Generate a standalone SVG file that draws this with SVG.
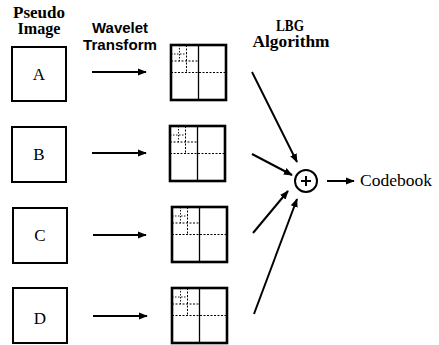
<svg xmlns="http://www.w3.org/2000/svg" xmlns:xlink="http://www.w3.org/1999/xlink" width="439" height="345" viewBox="0 0 439 345">
<style>
.box{fill:#fff;stroke:#000;stroke-width:2}
.gout{fill:#fff;stroke:#000;stroke-width:2.6}
.gmid{stroke:#000;stroke-width:1.3;fill:none}
.gdot{stroke:#000;stroke-width:1;stroke-dasharray:2 1.5;fill:none}
.gsub{stroke:#000;stroke-width:0.9;stroke-dasharray:1.5 1.5;fill:none}
.conn{stroke:#000;stroke-width:2;fill:none;marker-end:url(#ah)}
.hdr{font-family:"Liberation Serif",serif;font-weight:bold;font-size:16px;text-anchor:middle}
.hdrs{font-family:"Liberation Sans",sans-serif;font-weight:bold;font-size:14.5px;text-anchor:middle}
.lbl{font-family:"Liberation Serif",serif;font-size:17px;text-anchor:middle}
.cb{font-family:"Liberation Serif",serif;font-size:17px}
</style>
<defs>
<marker id="ah" viewBox="0 0 10 10" refX="9" refY="5" markerWidth="4.5" markerHeight="4.5" orient="auto" markerUnits="strokeWidth">
<path d="M0,1 L10,5 L0,9 z" fill="#000"/>
</marker>
<g id="grid">
<rect class="gout" x="0" y="0" width="55" height="55"/>
<line class="gmid" x1="27.5" y1="0" x2="27.5" y2="55"/>
<line class="gdot" x1="0" y1="27.5" x2="55" y2="27.5"/>
<line class="gdot" x1="0" y1="16" x2="27.5" y2="16"/>
<line class="gdot" x1="15.5" y1="0" x2="15.5" y2="27.5"/>
<line class="gsub" x1="0" y1="9" x2="15.5" y2="9"/>
<line class="gsub" x1="8.5" y1="0" x2="8.5" y2="16"/>
</g>
</defs>
<rect width="439" height="345" fill="#fff"/>
<g id="headers">
<text class="hdr" x="39" y="18" textLength="52" lengthAdjust="spacingAndGlyphs">Pseudo</text>
<text class="hdr" x="39" y="34" textLength="43" lengthAdjust="spacingAndGlyphs">Image</text>
<text class="hdrs" x="120" y="33" textLength="56" lengthAdjust="spacingAndGlyphs">Wavelet</text>
<text class="hdrs" x="120" y="50" textLength="74" lengthAdjust="spacingAndGlyphs">Transform</text>
<text class="hdr" x="290" y="31" textLength="28" lengthAdjust="spacingAndGlyphs">LBG</text>
<text class="hdr" x="291" y="47" textLength="77" lengthAdjust="spacingAndGlyphs">Algorithm</text>
</g>
<g id="image-a"><rect class="box" x="12" y="47" width="54" height="54"/><text class="lbl" x="39" y="80">A</text></g>
<g id="image-b"><rect class="box" x="12" y="127" width="54" height="55"/><text class="lbl" x="39" y="160">B</text></g>
<g id="image-c"><rect class="box" x="13" y="208" width="54" height="55"/><text class="lbl" x="40" y="241">C</text></g>
<g id="image-d"><rect class="box" x="13" y="288" width="54" height="55"/><text class="lbl" x="40" y="324">D</text></g>
<g id="wavelet-a" transform="translate(171,45)"><use xlink:href="#grid" href="#grid"/></g>
<g id="wavelet-b" transform="translate(170,126)"><use xlink:href="#grid" href="#grid"/></g>
<g id="wavelet-c" transform="translate(172,207)"><use xlink:href="#grid" href="#grid"/></g>
<g id="wavelet-d" transform="translate(172,288)"><use xlink:href="#grid" href="#grid"/></g>
<g id="sum">
<circle cx="306" cy="181" r="11" fill="#fff" stroke="#000" stroke-width="2"/>
<line x1="301" y1="181" x2="311" y2="181" stroke="#000" stroke-width="2"/>
<line x1="306" y1="176" x2="306" y2="186" stroke="#000" stroke-width="2"/>
</g>
<g id="codebook"><text class="cb" x="360" y="186" textLength="72" lengthAdjust="spacingAndGlyphs">Codebook</text></g>
<g id="connectors">
<line class="conn" x1="92" y1="72" x2="146" y2="72"/>
<line class="conn" x1="92" y1="153" x2="146" y2="153"/>
<line class="conn" x1="93" y1="235" x2="146" y2="235"/>
<line class="conn" x1="93" y1="316" x2="147" y2="316"/>
<line class="conn" x1="252" y1="72" x2="297" y2="162"/>
<line class="conn" x1="252" y1="154" x2="292" y2="175"/>
<line class="conn" x1="253" y1="233" x2="288" y2="191"/>
<line class="conn" x1="254" y1="314" x2="297" y2="199"/>
<line class="conn" x1="327" y1="181" x2="354" y2="181"/>
</g>
</svg>
